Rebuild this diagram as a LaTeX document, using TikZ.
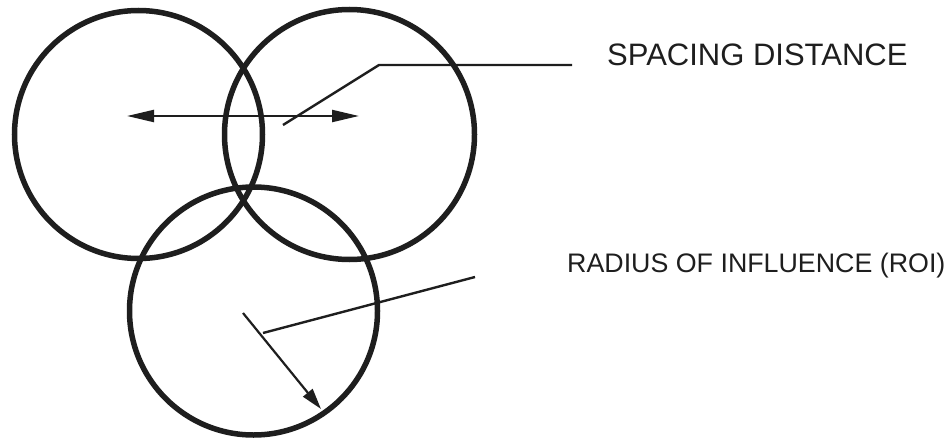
\documentclass[tikz,border=0pt]{standalone}
\usepackage{fontspec}
\setmainfont{Liberation Sans}
\usetikzlibrary{arrows.meta}
\definecolor{ink}{HTML}{1E1E1E}
\begin{document}
\begin{tikzpicture}[x=1pt,y=-1pt,
  ring/.style={circle,draw=ink,line width=5.5pt,minimum size=248pt,inner sep=0pt},
  thin/.style={draw=ink,line width=2.2pt},
  tip/.style={-{Triangle[length=27pt,width=12pt]}},
  smalltip/.style={-{Triangle[length=21pt,width=12pt]}},
  lbl/.style={text=ink,inner sep=0pt,anchor=west}]
\useasboundingbox (0,0) rectangle (951,439);
\node[ring] (cl) at (138.5,134.5) {};
\node[ring,minimum size=250pt] (cr) at (349.5,134.5) {};
\node[ring,minimum size=248pt] (cb) at (253.5,311) {};
% spacing arrow
\coordinate (sa) at (127,116);
\coordinate (sb) at (359,116);
\coordinate (sm) at (243,116);
\draw[thin,tip] (sm) -- (sa);
\draw[thin,tip] (sm) -- (sb);
% spacing leader
\coordinate (l1) at (283,125);
\coordinate (l2) at (379,65);
\coordinate (l3) at (572,65);
\draw[thin,line width=2.4pt] (l1) -- (l2) -- (l3);
\node[lbl,font=\fontsize{31}{33}\selectfont] (sd) at (607,55) {SPACING DISTANCE};
% radius arrow
\coordinate (r1) at (243,313);
\coordinate (r2) at (321,409);
\draw[thin,smalltip] (r1) -- (r2);
\coordinate (r3) at (263,333);
\coordinate (r4) at (475,277);
\draw[thin,line width=2.4pt] (r3) -- (r4);
\node[lbl,font=\fontsize{26.8}{30}\selectfont] (roi) at (567,266) {RADIUS OF INFLUENCE (ROI)};
\end{tikzpicture}
\end{document}
